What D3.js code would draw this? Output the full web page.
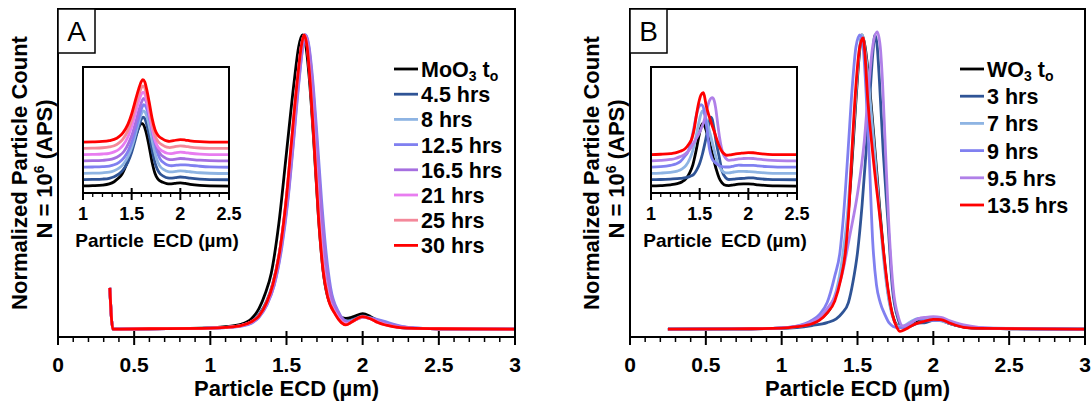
<!DOCTYPE html>
<html>
<head>
<meta charset="utf-8">
<script src="https://cdnjs.cloudflare.com/ajax/libs/d3/7.8.5/d3.min.js"></script>
<style>
body{margin:0;background:#fff}
svg{display:block}
text{font-family:"Liberation Sans",Arial,Helvetica,sans-serif}
</style>
</head>
<body>
<div id="chart"></div>
<script>
var W = 1091, H = 402;

// ticks
var mainTicks = [0, 0.5, 1, 1.5, 2, 2.5, 3];
var insetTicks = [1, 1.5, 2, 2.5];

// ---- panel A : MoO3 ----
var namesA = ["MoO3 t0", "4.5 hrs", "8 hrs", "12.5 hrs", "16.5 hrs", "21 hrs", "25 hrs", "30 hrs"];
var colorsA = ["#000000", "#2f5496", "#8eb4e3", "#8080f0", "#a66fe0", "#e87df0", "#f4889a", "#ff0000"];

var moo3_t0 = [[0.34,0.14],[0.36,0],[0.6,0.001],[1.0,0.004],[1.1,0.008],[1.2,0.016],[1.27,0.035],[1.32,0.07],[1.36,0.12],[1.4,0.19],[1.45,0.36],[1.5,0.6],[1.55,0.84],[1.58,0.96],[1.605,1.0],[1.625,0.97],[1.65,0.85],[1.68,0.63],[1.71,0.38],[1.74,0.2],[1.77,0.11],[1.82,0.06],[1.86,0.04],[1.89,0.036],[1.94,0.042],[2.0,0.052],[2.05,0.043],[2.1,0.028],[2.2,0.01],[2.3,0.003],[2.5,0.001],[3.0,0]];
var moo3_4h5 = [[0.34,0.14],[0.36,0],[0.6,0.001],[1.0,0.003],[1.1,0.006],[1.2,0.012],[1.27,0.025],[1.32,0.05],[1.37,0.095],[1.41,0.155],[1.46,0.28],[1.5,0.44],[1.53,0.6],[1.57,0.83],[1.6,0.97],[1.618,1.0],[1.64,0.96],[1.66,0.85],[1.69,0.64],[1.72,0.4],[1.75,0.22],[1.78,0.12],[1.83,0.055],[1.87,0.03],[1.9,0.027],[1.95,0.035],[2.0,0.045],[2.05,0.038],[2.1,0.026],[2.2,0.01],[2.3,0.003],[2.5,0.001],[3.0,0]];
var moo3_8h = [[0.34,0.14],[0.36,0],[0.6,0.001],[1.0,0.003],[1.1,0.006],[1.2,0.012],[1.27,0.022],[1.32,0.045],[1.37,0.085],[1.415,0.15],[1.465,0.28],[1.505,0.44],[1.535,0.6],[1.575,0.83],[1.605,0.97],[1.622,1.0],[1.642,0.97],[1.665,0.86],[1.695,0.65],[1.725,0.42],[1.755,0.24],[1.785,0.13],[1.835,0.058],[1.875,0.03],[1.905,0.026],[1.955,0.034],[2.0,0.042],[2.05,0.037],[2.1,0.029],[2.2,0.013],[2.3,0.005],[2.5,0.001],[3.0,0]];
var moo3_12h5 = [[0.34,0.14],[0.36,0],[0.6,0.001],[1.0,0.003],[1.1,0.005],[1.2,0.01],[1.27,0.02],[1.32,0.04],[1.37,0.08],[1.42,0.15],[1.47,0.28],[1.51,0.44],[1.54,0.6],[1.58,0.83],[1.61,0.97],[1.625,1.0],[1.645,0.97],[1.67,0.86],[1.7,0.66],[1.73,0.44],[1.76,0.26],[1.79,0.14],[1.84,0.06],[1.88,0.03],[1.91,0.025],[1.96,0.033],[2.0,0.04],[2.05,0.038],[2.1,0.032],[2.15,0.025],[2.2,0.017],[2.3,0.006],[2.5,0.001],[3.0,0]];
var moo3_16h5 = [[0.34,0.14],[0.36,0],[0.6,0.001],[1.0,0.003],[1.1,0.005],[1.2,0.011],[1.27,0.021],[1.32,0.042],[1.37,0.082],[1.42,0.152],[1.47,0.29],[1.51,0.45],[1.54,0.61],[1.58,0.84],[1.61,0.97],[1.623,1.0],[1.643,0.97],[1.667,0.86],[1.697,0.65],[1.727,0.42],[1.757,0.24],[1.787,0.13],[1.84,0.055],[1.88,0.027],[1.905,0.022],[1.955,0.032],[2.0,0.04],[2.05,0.036],[2.1,0.028],[2.2,0.013],[2.3,0.005],[2.5,0.001],[3.0,0]];
var moo3_21h = [[0.34,0.14],[0.36,0],[0.6,0.001],[1.0,0.003],[1.1,0.006],[1.2,0.012],[1.27,0.024],[1.32,0.046],[1.37,0.088],[1.41,0.15],[1.46,0.28],[1.5,0.45],[1.53,0.61],[1.57,0.84],[1.6,0.97],[1.617,1.0],[1.637,0.96],[1.657,0.84],[1.684,0.63],[1.714,0.39],[1.744,0.21],[1.774,0.115],[1.825,0.052],[1.865,0.024],[1.895,0.018],[1.94,0.028],[2.0,0.041],[2.05,0.035],[2.1,0.024],[2.2,0.009],[2.3,0.003],[2.5,0.001],[3.0,0]];
var moo3_25h = [[0.34,0.14],[0.36,0],[0.6,0.001],[1.0,0.003],[1.1,0.006],[1.2,0.012],[1.27,0.025],[1.32,0.045],[1.37,0.09],[1.41,0.15],[1.46,0.28],[1.5,0.45],[1.53,0.62],[1.57,0.84],[1.6,0.97],[1.616,1.0],[1.636,0.96],[1.656,0.84],[1.682,0.64],[1.712,0.38],[1.742,0.2],[1.772,0.11],[1.822,0.05],[1.862,0.022],[1.892,0.015],[1.935,0.026],[2.0,0.042],[2.05,0.035],[2.1,0.022],[2.2,0.008],[2.3,0.003],[2.5,0.001],[3.0,0]];
var moo3_30h = [[0.34,0.14],[0.36,0],[0.6,0.001],[1.0,0.003],[1.1,0.006],[1.2,0.012],[1.27,0.025],[1.32,0.045],[1.37,0.09],[1.41,0.15],[1.46,0.28],[1.5,0.45],[1.53,0.62],[1.57,0.84],[1.6,0.97],[1.615,1.0],[1.635,0.96],[1.655,0.84],[1.68,0.64],[1.71,0.38],[1.74,0.2],[1.77,0.11],[1.82,0.05],[1.86,0.022],[1.89,0.014],[1.93,0.025],[2.0,0.042],[2.05,0.035],[2.1,0.022],[2.2,0.008],[2.3,0.003],[2.5,0.001],[3.0,0]];
var seriesA = [moo3_t0, moo3_4h5, moo3_8h, moo3_12h5, moo3_16h5, moo3_21h, moo3_25h, moo3_30h];

// ---- panel B : WO3 ----
var namesB = ["WO3 t0", "3 hrs", "7 hrs", "9 hrs", "9.5 hrs", "13.5 hrs"];
var colorsB = ["#000000", "#2f5496", "#8eb4e3", "#8080f0", "#b080e8", "#ff0000"];

var wo3_t0 = [[0.25,0],[0.8,0.001],[1.0,0.003],[1.1,0.008],[1.2,0.02],[1.27,0.04],[1.32,0.07],[1.36,0.12],[1.4,0.22],[1.43,0.34],[1.46,0.54],[1.49,0.78],[1.515,0.95],[1.53,1.0],[1.55,0.96],[1.58,0.82],[1.61,0.64],[1.64,0.45],[1.67,0.27],[1.7,0.13],[1.73,0.05],[1.77,0.01],[1.8,0.008],[1.85,0.02],[1.9,0.03],[1.95,0.035],[2.0,0.036],[2.05,0.03],[2.1,0.02],[2.2,0.008],[2.3,0.003],[2.5,0.001],[3.0,0]];
var wo3_3h = [[0.25,0],[0.8,0.001],[1.0,0.002],[1.1,0.005],[1.2,0.012],[1.3,0.022],[1.36,0.035],[1.4,0.055],[1.44,0.09],[1.47,0.16],[1.5,0.26],[1.53,0.42],[1.556,0.6],[1.58,0.78],[1.6,0.93],[1.615,1.0],[1.63,0.96],[1.645,0.84],[1.67,0.6],[1.7,0.37],[1.73,0.14],[1.77,0.03],[1.8,0.005],[1.85,0.01],[1.9,0.02],[1.95,0.022],[2.0,0.03],[2.05,0.03],[2.1,0.02],[2.2,0.007],[2.3,0.002],[3.0,0]];
var wo3_7h = [[0.25,0],[0.8,0.001],[1.0,0.003],[1.1,0.008],[1.2,0.02],[1.27,0.04],[1.32,0.075],[1.36,0.13],[1.4,0.24],[1.43,0.37],[1.46,0.57],[1.49,0.8],[1.515,0.96],[1.53,1.0],[1.55,0.95],[1.58,0.8],[1.61,0.62],[1.64,0.43],[1.67,0.25],[1.7,0.12],[1.73,0.045],[1.77,0.01],[1.8,0.01],[1.85,0.025],[1.9,0.035],[1.95,0.035],[2.0,0.032],[2.05,0.028],[2.1,0.02],[2.2,0.008],[2.3,0.003],[3.0,0]];
var wo3_9h = [[0.25,0],[0.8,0.001],[1.0,0.004],[1.1,0.01],[1.2,0.03],[1.25,0.05],[1.3,0.09],[1.35,0.18],[1.384,0.26],[1.41,0.4],[1.437,0.6],[1.465,0.82],[1.49,0.96],[1.516,1.0],[1.535,0.97],[1.555,0.82],[1.576,0.6],[1.6,0.3],[1.625,0.15],[1.65,0.09],[1.68,0.05],[1.71,0.02],[1.76,0.005],[1.8,0.005],[1.85,0.02],[1.9,0.035],[1.95,0.03],[2.0,0.03],[2.05,0.03],[2.1,0.022],[2.2,0.01],[2.3,0.004],[3.0,0]];
var wo3_9h5 = [[0.25,0],[0.8,0.001],[1.0,0.004],[1.1,0.01],[1.2,0.025],[1.25,0.04],[1.3,0.07],[1.35,0.11],[1.4,0.19],[1.45,0.32],[1.5,0.46],[1.545,0.64],[1.575,0.83],[1.6,0.96],[1.63,1.01],[1.65,0.96],[1.665,0.84],[1.685,0.6],[1.705,0.37],[1.735,0.14],[1.77,0.04],[1.8,0.01],[1.85,0.02],[1.9,0.035],[1.95,0.04],[2.0,0.042],[2.05,0.04],[2.1,0.03],[2.2,0.014],[2.3,0.006],[2.5,0.001],[3.0,0]];
var wo3_13h5 = [[0.25,0],[0.8,0.001],[1.0,0.003],[1.1,0.008],[1.2,0.018],[1.25,0.03],[1.3,0.055],[1.35,0.095],[1.39,0.17],[1.42,0.26],[1.445,0.42],[1.463,0.6],[1.49,0.83],[1.515,0.96],[1.537,0.99],[1.55,0.93],[1.565,0.8],[1.6,0.6],[1.65,0.37],[1.7,0.14],[1.73,0.05],[1.76,0.005],[1.78,-0.008],[1.82,0],[1.87,0.015],[1.93,0.025],[2.0,0.033],[2.05,0.032],[2.1,0.022],[2.2,0.006],[2.3,0.002],[3.0,0]];
var seriesB = [wo3_t0, wo3_3h, wo3_7h, wo3_9h, wo3_9h5, wo3_13h5];

var insetStep = 0.1; // vertical offset between stacked inset curves

var svg = d3.select("#chart").append("svg")
	.attr("width", W)
	.attr("height", H);

function addLabel(sel, name, big, small){
	// "MoO3 t0" -> MoO + sub 3 + " t" + sub o
	var m = name.match(/^(\w+?)(\d) t0$/);
	if(m){
		sel.append("tspan").text(m[1]);
		sel.append("tspan").text(m[2]).attr("font-size", small).attr("dy", 4);
		sel.append("tspan").text(" t").attr("font-size", big).attr("dy", -4);
		sel.append("tspan").text("o").attr("font-size", small).attr("dy", 4);
	} else {
		sel.text(name);
	}
}

function drawPanel(p){
	var g = svg.append("g");
	var x = d3.scaleLinear().domain([0, 3]).range([p.left, p.right]);
	var y = d3.scaleLinear().domain([-0.027, 1.088]).range([337, 9]);

	var line = d3.line()
		.x(function(d){ return x(d[0]); })
		.y(function(d){ return y(d[1]); })
		.curve(d3.curveMonotoneX);

	g.selectAll(".curve")
		.data(p.series)
		.enter()
		.append("path")
		.attr("class", "curve")
		.attr("d", line)
		.attr("fill", "none")
		.attr("stroke", function(d, i){ return p.colors[i]; })
		.attr("stroke-width", 2.8)
		.attr("stroke-linejoin", "round");

	// frame
	g.append("rect")
		.attr("x", p.left).attr("y", 9)
		.attr("width", p.right - p.left).attr("height", 337 - 9)
		.attr("fill", "none").attr("stroke", "#000").attr("stroke-width", 2);

	// x ticks
	var minor = d3.range(0, 31).map(function(i){ return i / 10; })
		.filter(function(v){ return Math.round(v * 10) % 5 !== 0; });
	g.selectAll(".minor").data(minor).enter().append("line")
		.attr("x1", function(d){ return x(d); }).attr("x2", function(d){ return x(d); })
		.attr("y1", 337).attr("y2", 342)
		.attr("stroke", "#000").attr("stroke-width", 1.5);
	g.selectAll(".major").data(mainTicks).enter().append("line")
		.attr("x1", function(d){ return x(d); }).attr("x2", function(d){ return x(d); })
		.attr("y1", 331).attr("y2", 345)
		.attr("stroke", "#000").attr("stroke-width", 2);
	g.selectAll(".tlab").data(mainTicks).enter().append("text")
		.attr("x", function(d){ return x(d); })
		.attr("y", 372)
		.attr("text-anchor", "middle")
		.attr("font-size", 21).attr("font-weight", "bold")
		.text(function(d){ return d3.format("~g")(d); });

	g.append("text")
		.attr("x", (p.left + p.right) / 2).attr("y", 396)
		.attr("text-anchor", "middle")
		.attr("font-size", 22).attr("font-weight", "bold")
		.text("Particle ECD (\u00b5m)");

	// y label
	g.append("text")
		.attr("transform", "translate(" + (p.left - 31) + ",173) rotate(-90)")
		.attr("text-anchor", "middle")
		.attr("font-size", 22).attr("font-weight", "bold")
		.text("Normalized Particle Count");
	var yl2 = g.append("text")
		.attr("transform", "translate(" + (p.left - 6) + ",169) rotate(-90)")
		.attr("text-anchor", "middle")
		.attr("font-size", 22).attr("font-weight", "bold");
	yl2.append("tspan").text("N = 10");
	yl2.append("tspan").text("6").attr("font-size", 14).attr("dy", -8);
	yl2.append("tspan").text(" (APS)").attr("dy", 8);

	// panel letter box
	g.append("rect")
		.attr("x", p.left).attr("y", 9).attr("width", 37).attr("height", 44)
		.attr("fill", "#fff").attr("stroke", "#000").attr("stroke-width", 1.5);
	g.append("text")
		.attr("x", p.left + 18.5).attr("y", 41)
		.attr("text-anchor", "middle").attr("font-size", 28)
		.text(p.letter);

	// legend
	var leg = g.selectAll(".leg").data(p.names).enter().append("g")
		.attr("transform", function(d, i){ return "translate(" + p.legX + "," + (69 + i * p.legStep) + ")"; });
	leg.append("line")
		.attr("x1", 0).attr("x2", 24).attr("y1", 0).attr("y2", 0)
		.attr("stroke", function(d, i){ return p.colors[i]; })
		.attr("stroke-width", 2.8);
	leg.append("text")
		.attr("x", 27).attr("y", 8)
		.attr("font-size", 21.5).attr("font-weight", "bold")
		.each(function(d){ addLabel(d3.select(this), d, 21.5, 14); });

	// inset
	var ix = d3.scaleLinear().domain([1, 2.5]).range([p.inL, p.inL + 146]);
	var iy = d3.scaleLinear().domain([-0.11, 1.9]).range([193, 67]);
	var clipId = "clip" + p.letter;
	svg.append("clipPath").attr("id", clipId).append("rect")
		.attr("x", p.inL).attr("y", 67).attr("width", 146).attr("height", 126);
	var ig = g.append("g");
	ig.append("rect")
		.attr("x", p.inL).attr("y", 67).attr("width", 146).attr("height", 126)
		.attr("fill", "#fff");
	var iline = d3.line()
		.x(function(d){ return ix(d[0]); })
		.curve(d3.curveMonotoneX);
	ig.append("g").attr("clip-path", "url(#" + clipId + ")")
		.selectAll("path").data(p.series).enter().append("path")
		.attr("d", function(d, i){
			iline.y(function(e){ return iy(e[1] + i * insetStep); });
			return iline(d.filter(function(e){ return e[0] >= 0.8; }));
		})
		.attr("fill", "none")
		.attr("stroke", function(d, i){ return p.colors[i]; })
		.attr("stroke-width", 2.8);
	ig.append("rect")
		.attr("x", p.inL).attr("y", 67).attr("width", 146).attr("height", 126)
		.attr("fill", "none").attr("stroke", "#000").attr("stroke-width", 2);
	var iminor = d3.range(10, 26).map(function(i){ return i / 10; })
		.filter(function(v){ return Math.round(v * 10) % 5 !== 0; });
	ig.selectAll(".iminor").data(iminor).enter().append("line")
		.attr("x1", function(d){ return ix(d); }).attr("x2", function(d){ return ix(d); })
		.attr("y1", 193).attr("y2", 197)
		.attr("stroke", "#000").attr("stroke-width", 1.3);
	ig.selectAll(".imajor").data(insetTicks).enter().append("line")
		.attr("x1", function(d){ return ix(d); }).attr("x2", function(d){ return ix(d); })
		.attr("y1", 188).attr("y2", 200)
		.attr("stroke", "#000").attr("stroke-width", 2);
	ig.selectAll(".ilab").data(insetTicks).enter().append("text")
		.attr("x", function(d){ return ix(d); }).attr("y", 220)
		.attr("text-anchor", "middle")
		.attr("font-size", 18).attr("font-weight", "bold")
		.text(function(d){ return d3.format("~g")(d); });
	var il = ig.append("text")
		.attr("x", p.inL + 74).attr("y", 247)
		.attr("text-anchor", "middle")
		.attr("font-size", 19).attr("font-weight", "bold");
	il.append("tspan").text("Particle");
	il.append("tspan").attr("dx", 9).text("ECD (\u00b5m)");
}

drawPanel({letter: "A", left: 58, right: 515, series: seriesA, names: namesA, colors: colorsA,
	legX: 394, legStep: 25.2, inL: 83});
drawPanel({letter: "B", left: 630, right: 1085, series: seriesB, names: namesB, colors: colorsB,
	legX: 960, legStep: 27.2, inL: 651});
</script>
</body>
</html>
